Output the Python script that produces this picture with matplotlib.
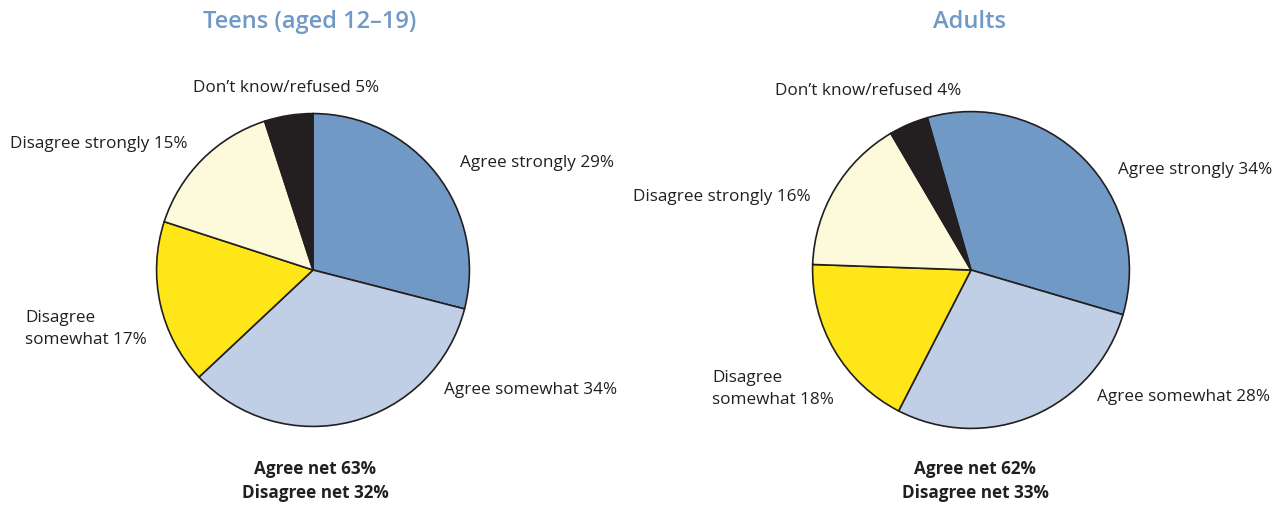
import matplotlib.pyplot as plt

plt.rcParams['font.family'] = ['Open Sans', 'DejaVu Sans']

categories = ['Agree strongly', 'Agree somewhat', 'Disagree somewhat',
              'Disagree strongly', 'Don\u2019t know/refused']
teens = [29, 34, 17, 15, 5]
adults = [34, 28, 18, 16, 4]
teens_net = (63, 32)
adults_net = (62, 33)

colors = ['#7099c6', '#c0cfe6', '#ffe619', '#fdf9db', '#231f20']
title_color = '#7099c6'
text_color = '#231f20'

W, H = 1281, 508
fig = plt.figure(figsize=(W / 100, H / 100), dpi=100)


def px(x, y):
    # pixel position (from top-left) to figure fraction
    return x / W, 1 - y / H


def draw_pie(cx, cy, r, values, start):
    ax = fig.add_axes([(cx - r) / W, (H - cy - r) / H, 2 * r / W, 2 * r / H])
    ax.pie(values, colors=colors, startangle=start, counterclock=False,
           radius=1, wedgeprops=dict(edgecolor=text_color, linewidth=1.2))
    ax.set_xlim(-1.01, 1.01)
    ax.set_ylim(-1.01, 1.01)
    ax.set_aspect('auto')
    ax.axis('off')


def label(x, y, s, ha='left', size=12.3, **kw):
    fig.text(*px(x, y), s, ha=ha, va='center', fontsize=size,
             color=text_color, linespacing=1.45, **kw)


def pct(i, values):
    return f'{categories[i]} {values[i]}%'


def title(x, s):
    fig.text(*px(x, 22), s, ha='center', va='center', fontsize=17,
             fontweight='semibold', color=title_color)


# Teens
draw_pie(313, 270, 158, teens, 90)
title(310, 'Teens (aged 12\u201319)')
label(193, 88, pct(4, teens))
label(10, 144, pct(3, teens))
label(460, 163, pct(0, teens))
label(25, 329, f'Disagree\nsomewhat {teens[2]}%')
label(444, 390, pct(1, teens))
label(315, 481, f'Agree net {teens_net[0]}%\nDisagree net {teens_net[1]}%',
      ha='center', size=12.3, fontweight='bold')

# Adults
draw_pie(971, 270, 160, adults, 106)
title(970, 'Adults')
label(775, 91, pct(4, adults))
label(633, 197, pct(3, adults))
label(1118, 170, pct(0, adults))
label(712, 389, f'Disagree\nsomewhat {adults[2]}%')
label(1097, 397, pct(1, adults))
label(975, 481, f'Agree net {adults_net[0]}%\nDisagree net {adults_net[1]}%',
      ha='center', size=12.3, fontweight='bold')

fig.savefig('out.png', dpi=100)
